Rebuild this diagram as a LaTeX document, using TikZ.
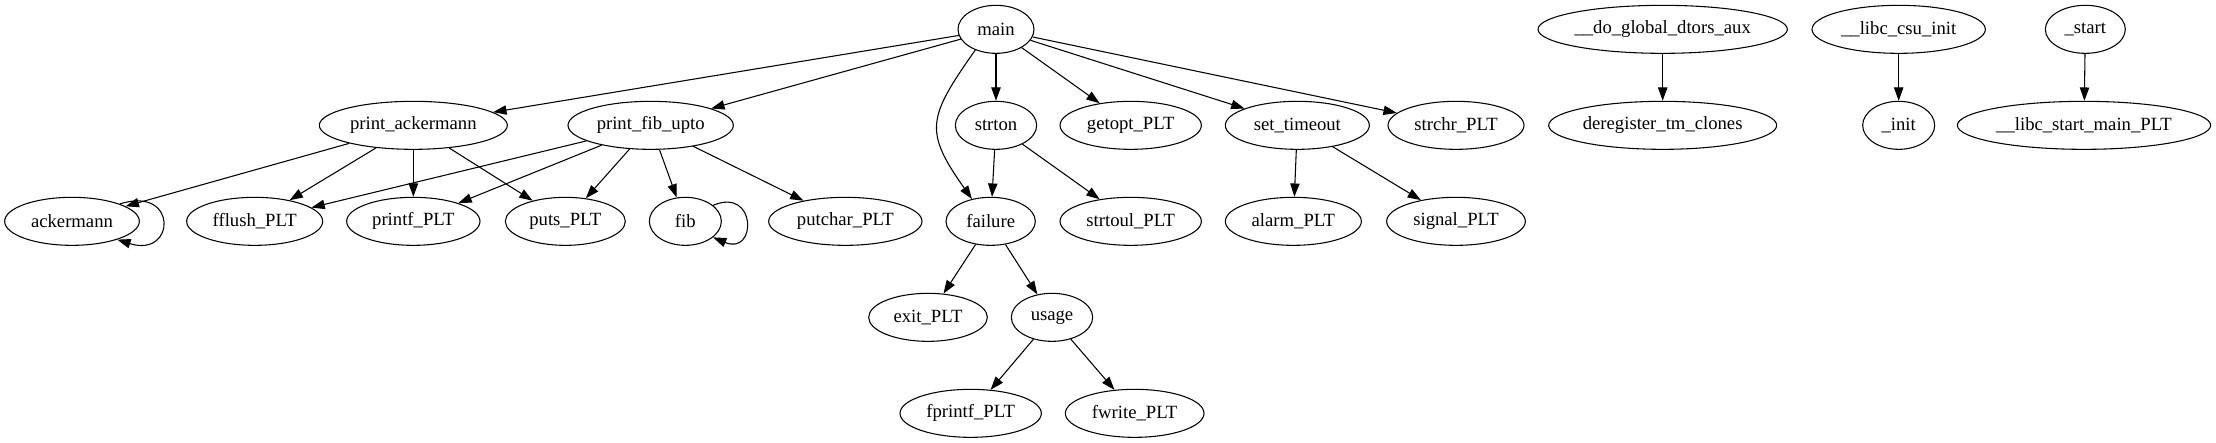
\documentclass[tikz,border=0pt]{standalone}
\usepackage{fontspec}
\setmainfont{Liberation Serif}
\usetikzlibrary{shapes.geometric,arrows.meta}

\begin{document}
\begin{tikzpicture}[x=1pt,y=1pt,
	fn/.style={ellipse, draw, thick, inner sep=0pt, minimum height=36pt, font=\fontsize{14}{16}\selectfont},
	calls/.style={-{Triangle[length=10pt,width=7pt]}, thick}]

	\useasboundingbox (0,0) rectangle (1662,332);

	\node 	(main)		at	(747,310) 	[fn, minimum width=57pt]{main};
	\node 	(dtors)		at	(1247,310) 	[fn, minimum width=187pt]{\_\_do\_global\_dtors\_aux};
	\node 	(csuinit)	at	(1424,310) 	[fn, minimum width=130pt]{\_\_libc\_csu\_init};
	\node 	(start)		at	(1564,310) 	[fn, minimum width=60pt]{\_start};

	\node 	(pack)		at	(310,238) 	[fn, minimum width=141pt]{print\_ackermann};
	\node 	(pfib)		at	(488,238) 	[fn, minimum width=124pt]{print\_fib\_upto};
	\node 	(strton)	at	(747,238) 	[fn, minimum width=61pt]{strton};
	\node 	(getopt)	at	(848,238) 	[fn, minimum width=106pt]{getopt\_PLT};
	\node 	(settime)	at	(973,238) 	[fn, minimum width=108pt]{set\_timeout};
	\node 	(strchr)	at	(1092,238) 	[fn, minimum width=102pt]{strchr\_PLT};
	\node 	(dereg)		at	(1247,238) 	[fn, minimum width=171pt]{deregister\_tm\_clones};
	\node 	(init)		at	(1424,238) 	[fn, minimum width=54pt]{\_init};
	\node 	(libcmain)	at	(1563,238) 	[fn, minimum width=190pt]{\_\_libc\_start\_main\_PLT};

	\node 	(ack)		at	(54,166) 	[fn, minimum width=101pt]{ackermann};
	\node 	(fflush)	at	(191,166) 	[fn, minimum width=102pt]{fflush\_PLT};
	\node 	(printf)	at	(310,166) 	[fn, minimum width=100pt]{printf\_PLT};
	\node 	(puts)		at	(424,166) 	[fn, minimum width=90pt]{puts\_PLT};
	\node 	(fib)		at	(514,166) 	[fn, minimum width=54pt]{fib};
	\node 	(putchar)	at	(634,166) 	[fn, minimum width=115pt]{putchar\_PLT};
	\node 	(failure)	at	(743,166) 	[fn, minimum width=67pt]{failure};
	\node 	(strtoul)	at	(848,166) 	[fn, minimum width=106pt]{strtoul\_PLT};
	\node 	(alarm)		at	(970,166) 	[fn, minimum width=102pt]{alarm\_PLT};
	\node 	(signal)	at	(1092,166) 	[fn, minimum width=104pt]{signal\_PLT};

	\node 	(exit)		at	(696,94) 	[fn, minimum width=89pt]{exit\_PLT};
	\node 	(usage)		at	(789,94) 	[fn, minimum width=61pt]{usage};

	\node 	(fprintf)	at	(728,22) 	[fn, minimum width=106pt]{fprintf\_PLT};
	\node 	(fwrite)	at	(851,22) 	[fn, minimum width=104pt]{fwrite\_PLT};

	\draw[calls]	(main)	to	(pack);
	\draw[calls]	(main)	to	(pfib);
	\draw[calls]	(main)	to	(strton);
	\draw[calls]	(main)	to	(getopt);
	\draw[calls]	(main)	to	(settime);
	\draw[calls]	(main)	to	(strchr);
	\draw[calls]	(main.225)	.. controls +(-36pt,-51pt) and +(-36pt,51pt) ..	(failure.130);

	\draw[calls]	(pack)	to	(ack);
	\draw[calls]	(pack)	to	(fflush);
	\draw[calls]	(pack)	to	(printf);
	\draw[calls]	(pack)	to	(puts);

	\draw[calls]	(pfib)	to	(fflush);
	\draw[calls]	(pfib)	to	(printf);
	\draw[calls]	(pfib)	to	(puts);
	\draw[calls]	(pfib)	to	(fib);
	\draw[calls]	(pfib)	to	(putchar);

	\draw[calls]	(ack.20)	.. controls +(44pt,14pt) and +(44pt,-14pt) ..	(ack.-22);
	\draw[calls]	(fib.30)	.. controls +(33pt,14pt) and +(33pt,-14pt) ..	(fib.-30);

	\draw[calls]	(strton)	to	(failure);
	\draw[calls]	(strton)	to	(strtoul);
	\draw[calls]	(settime)	to	(alarm);
	\draw[calls]	(settime)	to	(signal);

	\draw[calls]	(failure)	to	(exit);
	\draw[calls]	(failure)	to	(usage);
	\draw[calls]	(usage)	to	(fprintf);
	\draw[calls]	(usage)	to	(fwrite);

	\draw[calls]	(dtors)	to	(dereg);
	\draw[calls]	(csuinit)	to	(init);
	\draw[calls]	(start)	to	(libcmain);

\end{tikzpicture}
\end{document}
